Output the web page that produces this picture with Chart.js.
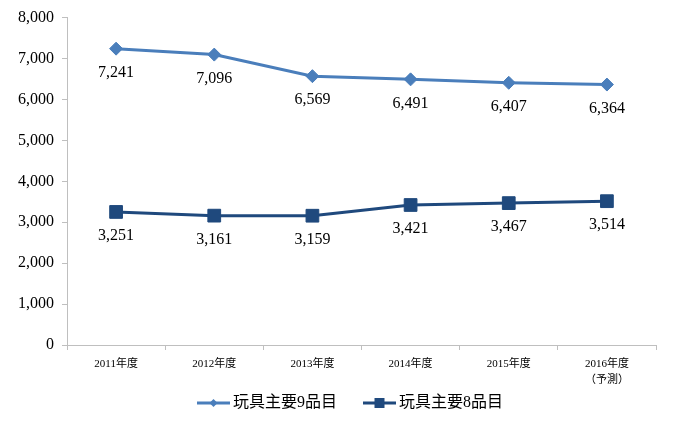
<!DOCTYPE html>
<html>
<head>
<meta charset="utf-8">
<script src="https://cdn.jsdelivr.net/npm/chart.js@4/dist/chart.umd.min.js"></script>
<style>
html,body{margin:0;padding:0;background:#fff;}
#wrap{width:700px;height:421px;position:relative;}
</style>
</head>
<body>
<div id="wrap"><canvas id="c" width="700" height="421"></canvas></div>
<script>
const categories = ['2011年度', '2012年度', '2013年度', '2014年度', '2015年度', ['2016年度', '（予測）']];
const seriesNames = ['玩具主要9品目', '玩具主要8品目'];
const series9 = [7241, 7096, 6569, 6491, 6407, 6364];
const series8 = [3251, 3161, 3159, 3421, 3467, 3514];
const yTicks = [0, 1000, 2000, 3000, 4000, 5000, 6000, 7000, 8000];

const LIGHT = '#4A7EBB';
const DARK = '#1F497D';
const SERIF = '"Liberation Serif", "Times New Roman", "Noto Sans CJK JP", serif';
const CJK = '"Liberation Serif", "Noto Sans CJK JP", sans-serif';

const dataLabels = {
  id: 'dataLabels',
  afterDatasetsDraw(chart) {
    const ctx = chart.ctx;
    ctx.save();
    ctx.font = '16px ' + SERIF;
    ctx.fillStyle = '#000';
    ctx.textAlign = 'center';
    ctx.textBaseline = 'middle';
    chart.data.datasets.forEach((ds, i) => {
      const meta = chart.getDatasetMeta(i);
      meta.data.forEach((pt, j) => {
        ctx.fillText(ds.data[j].toLocaleString('en-US'), pt.x, pt.y + 24);
      });
    });
    ctx.restore();
  }
};

// Legend drawn beneath the chart: line sample with marker, then series name
const bottomLegend = {
  id: 'bottomLegend',
  afterDraw(chart) {
    const ctx = chart.ctx;
    ctx.save();
    ctx.font = '16px ' + CJK;
    ctx.textBaseline = 'middle';
    ctx.textAlign = 'left';
    const lineW = 33, gap = 3, itemGap = 26;
    const items = chart.data.datasets.map(ds => ({ ds, tw: ctx.measureText(ds.label).width }));
    const total = items.reduce((s, it) => s + lineW + gap + it.tw, 0) + itemGap * (items.length - 1);
    let x = chart.width / 2 - total / 2;
    const y = 403;
    items.forEach(({ ds, tw }) => {
      const c = ds.borderColor;
      ctx.strokeStyle = c; ctx.lineWidth = 3;
      ctx.beginPath(); ctx.moveTo(x, y); ctx.lineTo(x + lineW, y); ctx.stroke();
      ctx.fillStyle = c;
      const cx = x + lineW / 2;
      ctx.beginPath();
      if (ds.pointStyle === 'rectRot') {
        const r = 4;
        ctx.moveTo(cx, y - r); ctx.lineTo(cx + r, y); ctx.lineTo(cx, y + r); ctx.lineTo(cx - r, y); ctx.closePath();
      } else {
        const r = 5;
        ctx.rect(cx - r, y - r, 2 * r, 2 * r);
      }
      ctx.fill();
      ctx.fillStyle = '#000';
      ctx.fillText(ds.label, x + lineW + gap, y);
      x += lineW + gap + tw + itemGap;
    });
    ctx.restore();
  }
};

new Chart(document.getElementById('c'), {
  type: 'line',
  data: {
    labels: categories,
    datasets: [
      {
        label: seriesNames[0], data: series9,
        borderColor: LIGHT, backgroundColor: LIGHT, borderWidth: 3,
        pointStyle: 'rectRot', pointRadius: 6.5, pointHoverRadius: 6.5,
        pointBackgroundColor: LIGHT, pointBorderColor: LIGHT, pointBorderWidth: 1,
        tension: 0, fill: false
      },
      {
        label: seriesNames[1], data: series8,
        borderColor: DARK, backgroundColor: DARK, borderWidth: 3,
        pointStyle: 'rect', pointRadius: 9, pointHoverRadius: 9,
        pointBackgroundColor: DARK, pointBorderColor: DARK, pointBorderWidth: 1,
        tension: 0, fill: false
      }
    ]
  },
  options: {
    responsive: false,
    animation: false,
    events: [],
    layout: { padding: { left: 0, right: 44, top: 11, bottom: 36 } },
    plugins: {
      tooltip: { enabled: false },
      title: { display: false },
      legend: { display: false }
    },
    scales: {
      x: {
        offset: true,
        afterFit(scale) { scale.height = 40; },
        border: { display: true, color: '#BFBFBF', width: 1 },
        grid: { display: true, offset: true, drawOnChartArea: false, drawTicks: true, tickLength: 5, color: '#BFBFBF' },
        ticks: { color: '#000', font: { size: 11, family: CJK, lineHeight: 1.45 }, padding: 6, maxRotation: 0, autoSkip: false }
      },
      y: {
        min: 0, max: 8000,
        afterFit(scale) { scale.width = 67; },
        afterBuildTicks(scale) { scale.ticks = yTicks.map(v => ({ value: v })); },
        border: { display: true, color: '#BFBFBF', width: 1 },
        grid: { display: true, drawOnChartArea: false, drawTicks: true, tickLength: 5, color: '#BFBFBF' },
        ticks: {
          color: '#000', font: { size: 16, family: SERIF }, padding: 8,
          callback: v => v.toLocaleString('en-US')
        }
      }
    }
  },
  plugins: [dataLabels, bottomLegend]
});
</script>
</body>
</html>
